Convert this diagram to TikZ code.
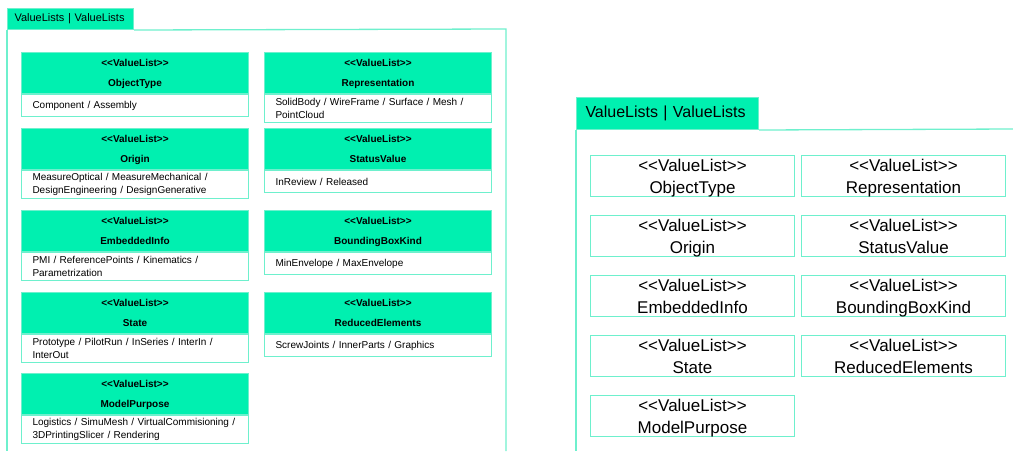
\documentclass[tikz,border=0pt]{standalone}
\usepackage{fontspec}
\setmainfont{Liberation Sans}[Ligatures=TeXOff]
\usetikzlibrary{positioning}
\definecolor{vlgreen}{RGB}{0,240,176}
\definecolor{vlline}{RGB}{110,240,205}
\tikzset{
  pkgtab/.style={rectangle, fill=vlgreen, draw=vlline, line width=1pt, anchor=north west, align=left, inner ysep=0pt},
  frameline/.style={draw=vlline, line width=1.3pt},
  vlhead/.style={rectangle, draw=vlline, line width=1pt, fill=vlgreen, minimum width=227pt, minimum height=41pt, inner sep=0pt, text height=29.8pt, text depth=2.1pt, align=center, anchor=north west, font=\fontsize{10}{20.5}\selectfont\bfseries},
  vlbody/.style={rectangle, draw=vlline, line width=1pt, fill=white, minimum height=22pt, inner xsep=11pt, inner ysep=0pt, text width=205pt, align=left, font=\fontsize{10}{13}\selectfont},
  vlbox/.style={rectangle, draw=vlline, line width=1pt, minimum width=204pt, minimum height=41pt, inner sep=0pt, text height=37.8pt, text depth=3.6pt, align=center, anchor=north west, font=\fontsize{17}{22}\selectfont}
}
\begin{document}
\begin{tikzpicture}[x=1pt, y=-1pt]
  \useasboundingbox (0,0) rectangle (1013,451);

  % Paquete detallado (izquierda)
  \node (lefttab) [pkgtab, minimum height=21pt, inner xsep=7pt, text width=112pt, font=\fontsize{11}{13}\selectfont] at (7,8) {ValueLists | ValueLists};
  \draw [frameline] (lefttab.south east) -- (506,29) -- (506,451);
  \draw [frameline] (lefttab.south west) -- (7,451);

  \node (objtype) [vlhead] at (21,52) {<<ValueList>>\\ObjectType};
  \node (objtypevals) [vlbody, below=0pt of objtype] {Component / Assembly};

  \node (origin) [vlhead] at (21,128) {<<ValueList>>\\Origin};
  \node (originvals) [vlbody, below=0pt of origin, minimum height=28pt] {MeasureOptical / MeasureMechanical /\\DesignEngineering / DesignGenerative};

  \node (embedded) [vlhead] at (21,210) {<<ValueList>>\\EmbeddedInfo};
  \node (embeddedvals) [vlbody, below=0pt of embedded, minimum height=28pt] {PMI / ReferencePoints / Kinematics /\\Parametrization};

  \node (state) [vlhead] at (21,292) {<<ValueList>>\\State};
  \node (statevals) [vlbody, below=0pt of state, minimum height=28pt] {Prototype / PilotRun / InSeries / InterIn /\\InterOut};

  \node (purpose) [vlhead] at (21,373) {<<ValueList>>\\ModelPurpose};
  \node (purposevals) [vlbody, below=0pt of purpose, minimum height=28pt] {Logistics / SimuMesh / VirtualCommisioning /\\3DPrintingSlicer / Rendering};

  \node (repr) [vlhead] at (264,52) {<<ValueList>>\\Representation};
  \node (reprvals) [vlbody, below=0pt of repr, minimum height=28pt] {SolidBody / WireFrame / Surface / Mesh /\\PointCloud};

  \node (status) [vlhead] at (264,128) {<<ValueList>>\\StatusValue};
  \node (statusvals) [vlbody, below=0pt of status] {InReview / Released};

  \node (bbox) [vlhead] at (264,210) {<<ValueList>>\\BoundingBoxKind};
  \node (bboxvals) [vlbody, below=0pt of bbox] {MinEnvelope / MaxEnvelope};

  \node (reduced) [vlhead] at (264,292) {<<ValueList>>\\ReducedElements};
  \node (reducedvals) [vlbody, below=0pt of reduced] {ScrewJoints / InnerParts / Graphics};

  % Paquete simplificado (derecha)
  \node (righttab) [pkgtab, minimum height=32pt, inner xsep=9pt, text width=164pt, font=\fontsize{16}{19}\selectfont] at (576,97) {ValueLists | ValueLists};
  \draw [frameline] (righttab.south east) -- (1013,129);
  \draw [frameline] (righttab.south west) -- (576,451);

  \node (objtypes) [vlbox] at (590,155) {<<ValueList>>\\ObjectType};
  \node (origins) [vlbox] at (590,215) {<<ValueList>>\\Origin};
  \node (embeddeds) [vlbox] at (590,275) {<<ValueList>>\\EmbeddedInfo};
  \node (states) [vlbox] at (590,335) {<<ValueList>>\\State};
  \node (purposes) [vlbox] at (590,395) {<<ValueList>>\\ModelPurpose};
  \node (reprs) [vlbox] at (801,155) {<<ValueList>>\\Representation};
  \node (statuss) [vlbox] at (801,215) {<<ValueList>>\\StatusValue};
  \node (bboxs) [vlbox] at (801,275) {<<ValueList>>\\BoundingBoxKind};
  \node (reduceds) [vlbox] at (801,335) {<<ValueList>>\\ReducedElements};

\end{tikzpicture}
\end{document}
